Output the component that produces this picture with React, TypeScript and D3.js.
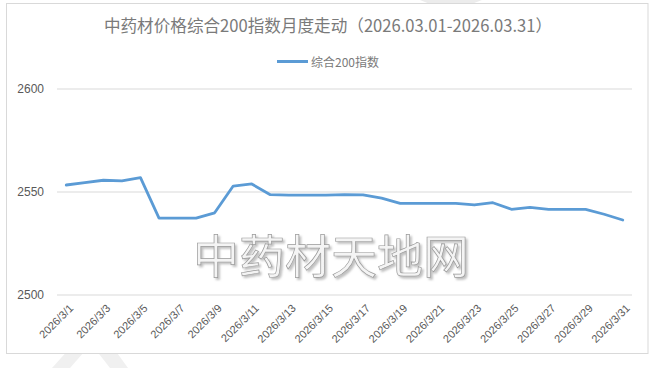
import React from "react";
import * as d3 from "d3";

const dates: string[] = Array.from({ length: 31 }, (_, i) => `2026/3/${i + 1}`);
const values: number[] = [
  2553.4, 2554.5, 2555.7, 2555.4, 2557.0, 2537.3, 2537.3, 2537.3, 2539.9, 2552.9,
  2553.9, 2548.7, 2548.5, 2548.5, 2548.5, 2548.7, 2548.6, 2547.0, 2544.5, 2544.5,
  2544.5, 2544.5, 2543.7, 2544.8, 2541.6, 2542.5, 2541.6, 2541.6, 2541.6, 2539.2,
  2536.4,
];
const yTicks: number[] = [2500, 2550, 2600];
const title = "中药材价格综合200指数月度走动（2026.03.01-2026.03.31）";
const seriesName = "综合200指数";
const watermark = "中药材天地网";

const W = 665;
const H = 368;
const cjk = "'Noto Sans CJK SC', 'Noto Sans', sans-serif";
const latin = "'Liberation Sans Narrow', 'Liberation Sans', 'Noto Sans', sans-serif";

export default function App() {
  const x = d3.scaleBand<string>().domain(dates).range([57, 632]);
  const y = d3.scaleLinear().domain([2500, 2600]).range([295, 89]);
  const cx = (d: string) => (x(d) as number) + x.bandwidth() / 2;
  const line = d3
    .line<number>()
    .x((_, i) => cx(dates[i]))
    .y((v) => y(v));

  return (
    <svg
      width={W}
      height={H}
      style={{ position: "absolute", left: 0, top: 0, background: "#fff" }}
    >
      <defs>
        <filter id="wmShadow" x="-10%" y="-30%" width="120%" height="160%">
          <feDropShadow dx={2} dy={2} stdDeviation={0.8} floodColor="#b0b0b0" floodOpacity={0.8} />
        </filter>
      </defs>
      <rect x={0} y={0} width={W} height={H} fill="#fff" />
      {/* faint background watermark fragments */}
      <path d="M420,0 Q450,14 482,0 Z" fill="#ececec" />
      <path d="M52,368 L70,348 L84,352 L70,368 Z" fill="#f0f0f0" />
      <path d="M96,350 L112,346 L128,368 L110,368 Z" fill="#f0f0f0" />
      {/* chart frame */}
      <rect x={6.5} y={3.5} width={641.5} height={350} fill="#fff" stroke="#d9d9d9" strokeWidth={1} />
      {/* title */}
      <text
        x={328}
        y={25}
        textAnchor="middle"
        dominantBaseline="central"
        fontFamily={cjk}
        fontSize={16.6}
        fill="#7a7a7a"
      >
        {title}
      </text>
      {/* legend */}
      <line x1={277} x2={308} y1={61.5} y2={61.5} stroke="#5b9bd5" strokeWidth={3} />
      <text
        x={311}
        y={61.5}
        dominantBaseline="central"
        fontFamily={cjk}
        fontSize={12}
        fill="#7a7a7a"
      >
        {seriesName}
      </text>
      {/* gridlines */}
      {yTicks.map((t) => (
        <line key={t} x1={57} x2={632} y1={y(t)} y2={y(t)} stroke="#d9d9d9" strokeWidth={1} />
      ))}
      {/* y labels */}
      {yTicks.map((t) => (
        <text
          key={"l" + t}
          x={44}
          y={y(t)}
          textAnchor="end"
          dominantBaseline="central"
          fontFamily={latin}
          fontSize={12}
          fill="#595959"
        >
          {t}
        </text>
      ))}
      {/* watermark */}
      <text
        x={331}
        y={253}
        fontFamily={cjk}
        fontSize={46}
        textAnchor="middle"
        dominantBaseline="central"
        fill="#f4f4f4"
        stroke="#9a9a9a"
        strokeWidth={0.7}
        filter="url(#wmShadow)"
      >
        {watermark}
      </text>
      {/* series line */}
      <path
        d={line(values) as string}
        fill="none"
        stroke="#5b9bd5"
        strokeWidth={2.8}
        strokeLinejoin="round"
        strokeLinecap="round"
      />
      {/* x labels */}
      {dates
        .filter((_, i) => i % 2 === 0)
        .map((d) => (
          <text
            key={d}
            transform={`translate(${cx(d) + 5},${306}) rotate(-45)`}
            textAnchor="end"
            dominantBaseline="central"
            fontFamily={latin}
            fontSize={11}
            fill="#595959"
          >
            {d}
          </text>
        ))}
    </svg>
  );
}
